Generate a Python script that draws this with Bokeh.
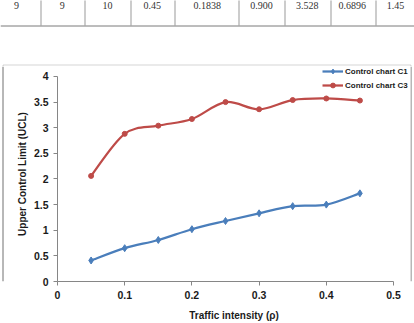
from bokeh.plotting import figure
from bokeh.models import (Range1d, FixedTicker, BoxAnnotation, LabelSet, ColumnDataSource,
                          Legend, LegendItem, Span)
from bokeh.layouts import column, row
from bokeh.embed import file_html
from bokeh.resources import INLINE

# ---- data ----
rho = [0.05, 0.10, 0.15, 0.20, 0.25, 0.30, 0.35, 0.40, 0.45]
ucl_c1 = [0.41, 0.65, 0.81, 1.02, 1.18, 1.33, 1.47, 1.50, 1.72]
ucl_c3 = [2.06, 2.88, 3.04, 3.17, 3.50, 3.36, 3.54, 3.57, 3.53]
x_ticks = [0, 0.1, 0.2, 0.3, 0.4, 0.5]
x_tick_labels = ["0", "0.1", "0.2", "0.3", "0.4", "0.5"]
y_ticks = [0, 0.5, 1, 1.5, 2, 2.5, 3, 3.5, 4]
y_tick_labels = ["0", "0.5", "1", "1.5", "2", "2.5", "3", "3.5", "4"]
table_row = ["9", "9", "10", "0.45", "0.1838", "0.900", "3.528", "0.6896", "1.45"]

# ---- layout constants (canvas pixels) ----
W, H = 414, 323
TOP_H = 66            # strip holding the table fragment and the chart border top
LEFT_W = 6            # strip holding the chart border left edge
RIGHT_W = 4           # strip holding the chart border right edge
CH_W = W - LEFT_W - RIGHT_W
CH_H = H - TOP_H
FRAME_L = 51          # frame left inside chart figure (canvas x = 57)
FRAME_B = 41          # bottom border (axis area)
PX_PER_X = 672.0      # pixels per unit of rho
PX_PER_Y = 51.5       # pixels per unit of UCL
BORDER = "#707070"
NAN = float("nan")

def strip(width, height, xr, yr):
    f = figure(width=width, height=height, output_backend="svg", toolbar_location=None,
               x_range=xr, y_range=yr, x_axis_type=None, y_axis_type=None,
               min_border=0, min_border_left=0, min_border_right=0,
               min_border_top=0, min_border_bottom=0)
    f.outline_line_color = None
    f.background_fill_color = "white"
    f.border_fill_color = "white"
    return f

# ---- top strip: table fragment + chart border top ----
top = strip(W, TOP_H, Range1d(0, W), Range1d(TOP_H, 0))
col_centers = [16, 61.7, 107, 151.7, 206.7, 261, 306.7, 351.7, 395]
seps = [40.5, 84.5, 130.5, 174.5, 238.5, 284.5, 330.5, 375.5]
src = ColumnDataSource(dict(x=col_centers, y=[5] * len(col_centers), t=table_row))
top.add_layout(LabelSet(x="x", y="y", text="t", source=src,
                        text_align="center", text_baseline="middle", text_font="Liberation Serif",
                        text_font_size="10px", text_color="#333333"))
top.segment(x0=seps, y0=[-2] * len(seps), x1=seps, y1=[25] * len(seps),
            line_color="#999999", line_width=1)
top.add_layout(Span(location=25.5, dimension="width", line_color="#7a7a7a", line_width=1))
top.add_layout(BoxAnnotation(left=2.5, right=410.5, top=64.5, bottom=TOP_H + 20,
                             fill_alpha=0, line_color=BORDER, line_width=1))

# ---- left and right strips: chart border edges ----
left = strip(LEFT_W, CH_H, Range1d(0, LEFT_W), Range1d(CH_H, 0))
left.add_layout(Span(location=2.5, dimension="height", line_color=BORDER, line_width=1))
right = strip(RIGHT_W, CH_H, Range1d(0, RIGHT_W), Range1d(CH_H, 0))
right.add_layout(Span(location=0.5, dimension="height", line_color=BORDER, line_width=1))

# ---- chart ----
frame_w = CH_W - FRAME_L
frame_h = CH_H - FRAME_B
p = figure(width=CH_W, height=CH_H, output_backend="svg", toolbar_location=None,
           x_range=Range1d(0, frame_w / PX_PER_X), y_range=Range1d(0, frame_h / PX_PER_Y),
           min_border_left=FRAME_L, min_border_right=0,
           min_border_top=0, min_border_bottom=FRAME_B)
p.outline_line_color = None
p.xgrid.grid_line_color = None
p.ygrid.grid_line_color = None
p.background_fill_color = "white"
p.border_fill_color = "white"

for ax in (p.xaxis[0], p.yaxis[0]):
    ax.axis_line_color = "#868686"
    ax.major_tick_line_color = "#868686"
    ax.minor_tick_line_color = None
    ax.major_tick_out = 4
    ax.major_tick_in = 0
    ax.major_label_text_font = "Liberation Sans"
    ax.major_label_text_font_style = "bold"
    ax.major_label_text_font_size = "10.5px"
    ax.major_label_text_color = "#1a1a1a"
    ax.axis_label_text_font = "Liberation Sans"
    ax.axis_label_text_font_style = "bold"
    ax.axis_label_text_font_size = "10px"
    ax.axis_label_text_color = "#1a1a1a"

p.xaxis.ticker = FixedTicker(ticks=x_ticks)
p.yaxis.ticker = FixedTicker(ticks=y_ticks)
p.xaxis.bounds = (x_ticks[0], x_ticks[-1])
p.yaxis.bounds = (y_ticks[0], y_ticks[-1])
p.xaxis.major_label_overrides = {t: s for t, s in zip(x_ticks, x_tick_labels)}
p.yaxis.major_label_overrides = {t: s for t, s in zip(y_ticks, y_tick_labels)}
p.xaxis.axis_label = "Traffic intensity (\u03c1)"
p.yaxis.axis_label = "Upper Control Limit (UCL)"
p.xaxis.major_label_standoff = 5
p.xaxis.axis_label_standoff = 8
p.yaxis.major_label_standoff = 5
p.yaxis.axis_label_standoff = 3


def smooth_segments(xs, ys):
    """Cubic Bezier pieces through the data points (spreadsheet-style smoothed line)."""
    n = len(xs)
    seg = dict(x0=[], y0=[], x1=[], y1=[], cx0=[], cy0=[], cx1=[], cy1=[])
    for i in range(n - 1):
        a = max(i - 1, 0)
        d = min(i + 2, n - 1)
        seg["x0"].append(xs[i]); seg["y0"].append(ys[i])
        seg["x1"].append(xs[i + 1]); seg["y1"].append(ys[i + 1])
        seg["cx0"].append(xs[i] + (xs[i + 1] - xs[a]) / 6.0)
        seg["cy0"].append(ys[i] + (ys[i + 1] - ys[a]) / 6.0)
        seg["cx1"].append(xs[i + 1] - (xs[d] - xs[i]) / 6.0)
        seg["cy1"].append(ys[i + 1] - (ys[d] - ys[i]) / 6.0)
    return ColumnDataSource(seg)


blue = "#4A7EBB"
red = "#BE4B48"
LW = 2.25
p.bezier(x0="x0", y0="y0", x1="x1", y1="y1", cx0="cx0", cy0="cy0", cx1="cx1", cy1="cy1",
         source=smooth_segments(rho, ucl_c1), line_color=blue, line_width=LW)
m1 = p.scatter(rho, ucl_c1, marker="diamond", size=7, fill_color=blue, line_color=blue)
p.bezier(x0="x0", y0="y0", x1="x1", y1="y1", cx0="cx0", cy0="cy0", cx1="cx1", cy1="cy1",
         source=smooth_segments(rho, ucl_c3), line_color=red, line_width=LW)
m3 = p.scatter(rho, ucl_c3, marker="circle", size=5, fill_color=red, line_color=red)

# legend line samples (a single undefined point, nothing drawn in the plot)
k1 = p.line(x=[NAN], y=[NAN], line_color=blue, line_width=LW)
k3 = p.line(x=[NAN], y=[NAN], line_color=red, line_width=LW)

legend = Legend(items=[LegendItem(label="Control chart C1", renderers=[k1, m1]),
                       LegendItem(label="Control chart C3", renderers=[k3, m3])],
                location=(265, 190), orientation="vertical",
                glyph_width=21, glyph_height=12, label_height=12, spacing=2,
                padding=0, label_standoff=2, margin=0,
                label_text_font="Liberation Sans", label_text_font_style="bold",
                label_text_font_size="8px", label_text_color="#1a1a1a",
                background_fill_alpha=0, border_line_color=None)
p.add_layout(legend)

layout = column(top, row(left, p, right, spacing=0), spacing=0)
open("out.html", "w").write(file_html(layout, INLINE))
